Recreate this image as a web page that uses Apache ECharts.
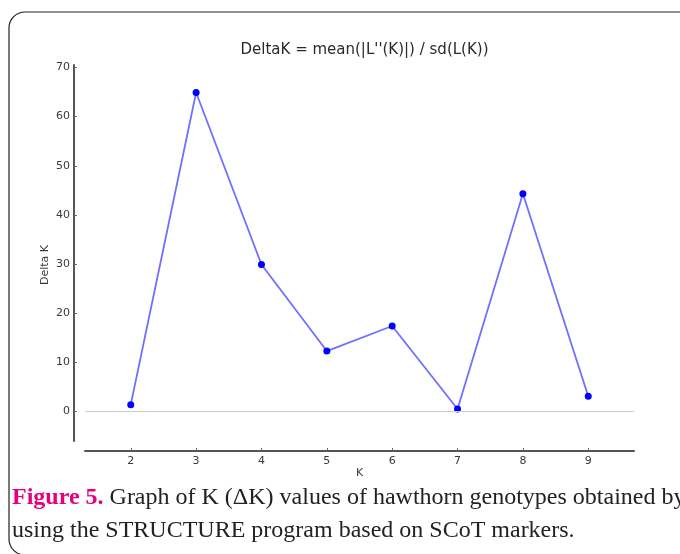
<!DOCTYPE html>
<html>
<head>
<meta charset="utf-8">
<script src="https://cdn.jsdelivr.net/npm/echarts@6/dist/echarts.min.js"></script>
<style>
html,body{margin:0;padding:0;background:#fff;}
#c{width:680px;height:554px;}
</style>
</head>
<body>
<div id="c"></div>
<script>
var kValues = [2, 3, 4, 5, 6, 7, 8, 9];
var deltaK = [1.4, 64.9, 29.9, 12.3, 17.4, 0.5, 44.3, 3.1];
var yTicks = [0, 10, 20, 30, 40, 50, 60, 70];
var xTicks = [2, 3, 4, 5, 6, 7, 8, 9];
var titleText = "DeltaK = mean(|L''(K)|) / sd(L(K))";
var xName = 'K';
var yName = 'Delta K';
var captionBold = "Figure 5.";
var captionRest1 = " Graph of K (\u0394K) values of hawthorn genotypes obtained by";
var captionLine2 = "using the STRUCTURE program based on SCoT markers.";

var chart = echarts.init(document.getElementById('c'), null, {renderer: 'canvas'});
var axisFont = {fontFamily: 'DejaVu Sans', fontSize: 11, color: '#3a3a3a'};
chart.setOption({
  animation: false,
  backgroundColor: '#fff',
  title: {
    text: titleText,
    left: 359.5, top: 38, textAlign: 'center',
    textStyle: {fontFamily: 'DejaVu Sans', fontSize: 15, fontWeight: 'normal', color: '#2a2a2a'}
  },
  grid: {left: 85, right: 46, top: 65, bottom: 113, containLabel: false},
  xAxis: {
    type: 'value', min: 1.3, max: 9.7, offset: 10,
    axisLine: {show: true, onZero: false, lineStyle: {color: '#555', width: 2}},
    axisTick: {show: true, inside: true, length: 3, customValues: xTicks, lineStyle: {color: '#666', width: 1}},
    axisLabel: Object.assign({customValues: xTicks, margin: 5}, axisFont),
    splitLine: {show: false}
  },
  yAxis: {
    type: 'value', min: -6, max: 70.5, offset: 11,
    axisLine: {show: true, lineStyle: {color: '#555', width: 2}},
    axisTick: {show: true, inside: true, length: 3, customValues: yTicks, lineStyle: {color: '#666', width: 1}},
    axisLabel: Object.assign({customValues: yTicks, margin: 4}, axisFont),
    splitLine: {show: false}
  },
  series: [{
    type: 'line',
    data: kValues.map(function (k, i) { return [k, deltaK[i]]; }),
    symbol: 'circle', symbolSize: 7,
    lineStyle: {color: '#7070ff', width: 1.8},
    itemStyle: {color: '#0000ff'},
    markLine: {
      silent: true, symbol: 'none', label: {show: false},
      lineStyle: {color: '#cccccc', width: 1, type: 'solid'},
      data: [{yAxis: 0}]
    }
  }],
  graphic: [
    {type: 'rect', shape: {x: 9, y: 12, width: 720, height: 543, r: 16},
     style: {fill: 'none', stroke: '#222', lineWidth: 1.2}, z: 100},
    {type: 'text', x: 359.5, y: 473, z: 100,
     style: {text: xName, font: '11px "DejaVu Sans"', fill: '#3a3a3a', textAlign: 'center', textVerticalAlign: 'middle'}},
    {type: 'text', x: 45, y: 265, rotation: Math.PI / 2, z: 100,
     style: {text: yName, font: '11px "DejaVu Sans"', fill: '#3a3a3a', textAlign: 'center', textVerticalAlign: 'middle'}},
    {type: 'text', x: 12, y: 498, z: 100,
     style: {
       text: '{b|' + captionBold + '}' + captionRest1,
       font: '24px "Liberation Serif"', fill: '#222', textVerticalAlign: 'middle',
       rich: {b: {fontFamily: 'Liberation Serif', fontSize: 24, fontWeight: 'bold', fill: '#e5007e', color: '#e5007e'}}
     }},
    {type: 'text', x: 12, y: 531, z: 100,
     style: {text: captionLine2, font: '24px "Liberation Serif"', fill: '#222', textVerticalAlign: 'middle'}}
  ]
});
</script>
</body>
</html>
